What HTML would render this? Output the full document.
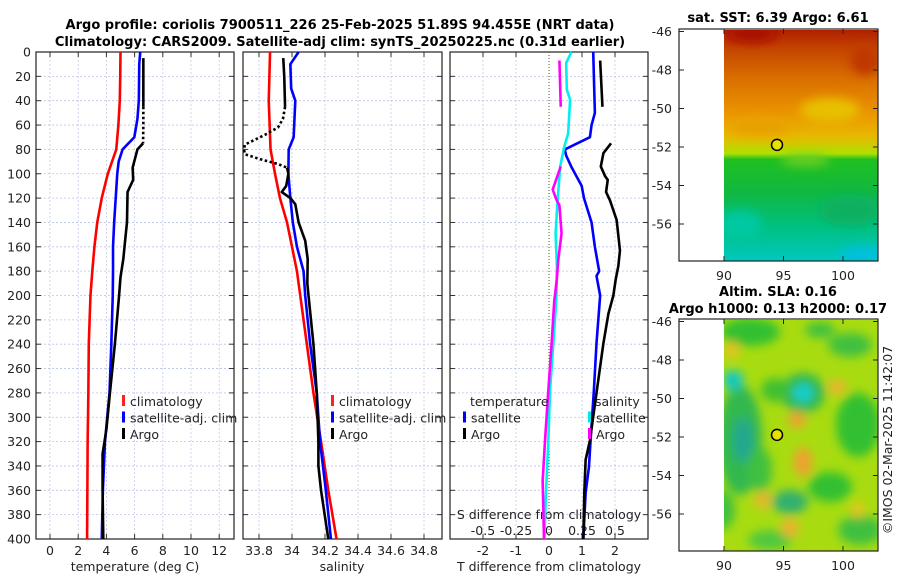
<!DOCTYPE html>
<html><head><meta charset="utf-8"><style>
html,body{margin:0;padding:0;background:#fff}
svg{display:block}
text{font-family:"DejaVu Sans","Liberation Sans",sans-serif;fill:#222}
.t{font-size:12.5px}
.b{font-weight:bold;font-size:13px;fill:#000}
</style></head><body>
<svg id="fig" width="900" height="580" viewBox="0 0 900 580" xmlns="http://www.w3.org/2000/svg">
<defs>
<linearGradient id="sstg" x1="0" y1="0" x2="0" y2="1">
<stop offset="0" stop-color="#b02000"/><stop offset="0.08" stop-color="#c44400"/>
<stop offset="0.2" stop-color="#d86c00"/><stop offset="0.35" stop-color="#ea9200"/>
<stop offset="0.46" stop-color="#e8b800"/><stop offset="0.535" stop-color="#b0e000"/>
<stop offset="0.56" stop-color="#20c020"/><stop offset="0.7" stop-color="#10b840"/>
<stop offset="0.85" stop-color="#00c080"/><stop offset="1" stop-color="#00c8c0"/>
</linearGradient>
<filter id="blur" x="-50%" y="-50%" width="200%" height="200%"><feGaussianBlur stdDeviation="5"/></filter>
<clipPath id="m1c"><rect x="724" y="30" width="154" height="231"/></clipPath>
<clipPath id="m2c"><rect x="724" y="320" width="154" height="231"/></clipPath>
</defs>
<text class="b" x="340" y="29" text-anchor="middle">Argo profile: coriolis 7900511_226 25-Feb-2025 51.89S 94.455E (NRT data)</text>
<text class="b" x="340" y="46" text-anchor="middle">Climatology: CARS2009. Satellite-adj clim: synTS_20250225.nc (0.31d earlier)</text>
<g id="plots"></g>
<g id="maps"></g>
<text class="t" transform="translate(892,440) rotate(-90)" text-anchor="middle">©IMOS 02-Mar-2025 11:42:07</text>
</svg>
<script>
// ---------- data ----------
const depthTicks = [0,20,40,60,80,100,120,140,160,180,200,220,240,260,280,300,320,340,360,380,400];
const tTicks = [0,2,4,6,8,10,12];
const sTicks = [33.8,34,34.2,34.4,34.6,34.8];
const sTickLabels = ["33.8","34","34.2","34.4","34.6","34.8"];
const dTTicks = [-2,-1,0,1,2];
const dSTicks = [-0.5,-0.25,0,0.25,0.5];
const dSTickLabels = ["-0.5","-0.25","0","0.25","0.5"];

const climTDepth = [0,20,40,60,80,100,120,140,160,180,200,240,280,320,360,400];
const climT = [5.0,4.98,4.95,4.85,4.7,4.1,3.67,3.35,3.15,3.0,2.87,2.75,2.72,2.67,2.65,2.63];
const satTDepth = [0,10,40,55,70,80,90,100,120,140,160,180,200,240,280,320,360,400];
const satT = [6.4,6.33,6.3,6.2,5.98,5.15,4.87,4.77,4.66,4.55,4.47,4.47,4.45,4.35,4.22,3.9,3.75,3.67];
const argoTDepth = [5,20,45,60,75,80,95,105,115,140,150,170,185,200,240,280,310,330,360,400];
const argoT = [6.62,6.62,6.62,6.62,6.6,6.2,5.86,5.9,5.5,5.46,5.37,5.2,5.0,4.9,4.6,4.25,4.0,3.73,3.73,3.78];
const argoTBad = [45,75];

const climSDepth = [0,40,80,100,120,140,160,180,200,240,280,320,360,400];
const climS = [33.867,33.859,33.87,33.897,33.927,33.97,34.0,34.03,34.05,34.09,34.13,34.176,34.22,34.27];
const satSDepth = [0,10,30,40,70,80,100,120,140,160,180,200,240,280,320,360,400];
const satS = [34.04,33.99,33.995,34.02,34.01,33.98,33.978,33.99,34.005,34.03,34.07,34.08,34.11,34.15,34.17,34.205,34.236];
const argoSDepth = [5,20,45,55,62,68,72,76,80,84,88,92,95,100,110,115,120,125,140,155,170,190,200,240,280,320,340,360,400];
const argoS = [33.947,33.953,33.958,33.945,33.915,33.836,33.776,33.715,33.709,33.715,33.806,33.915,33.97,33.978,33.965,33.938,33.99,34.02,34.04,34.08,34.095,34.093,34.1,34.13,34.15,34.16,34.16,34.176,34.22];
const argoSBad = [45,95];

const dTSatDepth = [0,50,60,70,80,85,95,110,120,140,160,180,184,200,239,278,319,341,362,400];
const dTSat = [1.34,1.39,1.29,1.24,0.48,0.52,0.69,0.99,1.06,1.29,1.39,1.52,1.44,1.55,1.44,1.36,1.26,1.21,1.11,1.04];
const dTArgoDepth = [7,45,75,83,94,102,105,115,122,138,163,176,187,200,215,239,278,319,335,362,400];
const dTArgo = [1.55,1.62,1.88,1.65,1.57,1.7,1.78,1.73,1.85,2.05,2.15,2.1,2.02,1.95,1.8,1.65,1.45,1.24,1.11,1.07,1.04];
const dSSatDepth = [0,9,31,39,67,78,94,122,149,176,187,204,239,278,319,362,400];
const dSSat = [0.17,0.13,0.135,0.16,0.145,0.115,0.085,0.065,0.05,0.06,0.058,0.055,0.033,0.008,-0.005,-0.023,-0.035];
const dSArgoDepth = [7,45,94,113,122,126,149,171,187,200,204,239,278,319,352,375,400];
const dSArgo = [0.079,0.089,0.089,0.028,0.059,0.079,0.095,0.07,0.059,0.045,0.04,0.02,-0.005,-0.03,-0.048,-0.043,-0.038];
const argoGap = [45,75];

const mapLonTicks = [90,95,100];
const mapLatTicks = [-46,-48,-50,-52,-54,-56];
const argoLon = 94.455, argoLat = -51.89;

// ---------- helpers ----------
const NS = "http://www.w3.org/2000/svg";
const plots = document.getElementById("plots");
const maps = document.getElementById("maps");
function mk(tag, attrs, parent){ const e=document.createElementNS(NS,tag); for(const k in attrs) e.setAttribute(k,attrs[k]); (parent||plots).appendChild(e); return e; }
function txt(x,y,s,anchor,parent){ const e=mk("text",{x:x,y:y,"text-anchor":anchor||"middle",class:"t"},parent); e.textContent=s; return e; }
const Y0=52, Y1=539;
const yD = d => Y0 + d*(Y1-Y0)/400;
const panels = [
 {x0:36,x1:234,sx:v=>50+v*14.1},
 {x0:243,x1:442,sx:v=>259+(v-33.8)*165},
 {x0:450,x1:648,sx:v=>549+v*33}
];
const sxS3 = v=>549+v*132;

function frame(p,name){
 for(const d of depthTicks){ if(d===0||d===400) continue;
  const g=mk("line",{x1:p.x0,x2:p.x1,y1:yD(d),y2:yD(d),stroke:"#b8c4e8","stroke-width":0.8,"stroke-dasharray":"2,2"});
  
  
  for(const xx of [[p.x0,p.x0+5],[p.x1-5,p.x1]]){
   const t=mk("line",{x1:xx[0],x2:xx[1],y1:yD(d),y2:yD(d),stroke:"#333","stroke-width":1});
   
   
  }
 }
 const r=mk("rect",{x:p.x0,y:Y0,width:p.x1-p.x0,height:Y1-Y0,fill:"none",stroke:"#222","stroke-width":1.2});
 
 
}
function vgrid(p,x){
 const g=mk("line",{x1:x,x2:x,y1:Y0,y2:Y1,stroke:"#c8c8e8","stroke-width":0.8,"stroke-dasharray":"2,2"});
 
 
 for(const yy of [[Y0,Y0+5],[Y1-5,Y1]]){
  const t=mk("line",{x1:x,x2:x,y1:yy[0],y2:yy[1],stroke:"#333","stroke-width":1});
  
  
 }
}
function series(depths, vals, sx, color, name, bad, badStyle){
 const segs=[[],[]];
 for(let i=0;i<depths.length;i++){
  const d=depths[i], pt=[sx(vals[i]),yD(d)];
  if(!bad){ segs[0].push(pt); continue; }
  if(d<=bad[0]) segs[0].push(pt);
  else if(d>=bad[1]) segs[1].push(pt);
 }
 for(const s of segs.filter(s=>s.length>1)){
  const pl=mk("polyline",{points:s.map(p=>p.join(",")).join(" "),fill:"none",stroke:color,"stroke-width":2.6,"stroke-linejoin":"round"});
  
  
 }
 if(bad && badStyle==='dot'){
  const pts=[]; for(let i=0;i<depths.length;i++) if(depths[i]>=bad[0]&&depths[i]<=bad[1]) pts.push([sx(vals[i]),yD(depths[i])]);
  const pl=mk("polyline",{points:pts.map(p=>p.join(",")).join(" "),fill:"none",stroke:color,"stroke-width":2.6,"stroke-dasharray":"2.5,2.5"});
  
  
 }
}
function legend(x,y,items){
 items.forEach((it,k)=>{
  const yy=y+k*16.5;
  const b=mk("rect",{x:x,y:yy-11,width:3,height:11,fill:it[0]});
  
  
  const t=txt(x+8,yy,it[1],"start");
  
  
 });
}

// ---------- panel 1 temperature ----------
let p=panels[0];
for(const v of tTicks) vgrid(p,p.sx(v));
frame(p,'temperature-panel');
for(const d of depthTicks){ const t=txt(31,yD(d)+4.5,String(d),"end");   }
for(const v of tTicks){ const t=txt(p.sx(v),555,String(v));   }
let xl=txt(135,571,"temperature (deg C)");  
series(climTDepth,climT,p.sx,"#ff0000","climatology-temperature-line");
series(satTDepth,satT,p.sx,"#0000ff","satellite-temperature-line");
series(argoTDepth,argoT,p.sx,"#000000","argo-temperature-line",argoTBad,'dot');
legend(122,406,[["#ff2020","climatology"],["#0000ff","satellite-adj. clim"],["#000","Argo"]]);

// ---------- panel 2 salinity ----------
p=panels[1];
for(const v of sTicks) vgrid(p,p.sx(v));
frame(p,'salinity-panel');
sTicks.forEach((v,i)=>{ const t=txt(p.sx(v),555,sTickLabels[i]);   });
xl=txt(342,571,"salinity");  
series(climSDepth,climS,p.sx,"#ff0000","climatology-salinity-line");
series(satSDepth,satS,p.sx,"#0000ff","satellite-salinity-line");
series(argoSDepth,argoS,p.sx,"#000000","argo-salinity-line",argoSBad,'dot');
legend(331,406,[["#ff2020","climatology"],["#0000ff","satellite-adj. clim"],["#000","Argo"]]);

// ---------- panel 3 differences ----------
p=panels[2];
for(const v of dTTicks) if(v!==0) vgrid(p,p.sx(v));
frame(p,'difference-panel');
const z=mk("line",{x1:549,x2:549,y1:Y0,y2:Y1,stroke:"#4a5a20","stroke-width":1,"stroke-dasharray":"1,2"});


for(const v of dTTicks){ const t=txt(p.sx(v),555,String(v));   }
dSTicks.forEach((v,i)=>{ const t=txt(sxS3(v),535,dSTickLabels[i]);   });
xl=txt(549,519,"S difference from climatology");  
xl=txt(549,571,"T difference from climatology");  
series(dTSatDepth,dTSat,p.sx,"#0000ff","satellite-t-diff-line");
series(dTArgoDepth,dTArgo,p.sx,"#000000","argo-t-diff-line",argoGap,'gap');
series(dSSatDepth,dSSat,sxS3,"#00f0f0","satellite-s-diff-line");
series(dSArgoDepth,dSArgo,sxS3,"#ff00ff","argo-s-diff-line",argoGap,'gap');
let lt=txt(470,406,"temperature","start");  
legend(463,422.5,[["#0000ff","satellite"],["#000","Argo"]]);
lt=txt(595,406,"salinity","start");  
legend(588,422.5,[["#00e8e8","satellite"],["#ff00ff","Argo"]]);

// ---------- maps ----------
const lonX = lon => 724 + (lon-90)*11.9;
const latY = (lat,off) => 31.5 + (-46-lat)*19.25 + off;
function mapFrame(off,name){
 const r=mk("rect",{x:679,y:29+off,width:199,height:232,fill:"none",stroke:"#222","stroke-width":1.2},maps);
 
 
 for(const la of mapLatTicks){
  const y=latY(la,off);
  const t=txt(672,y+4.5,String(la),"end",maps);  
  for(const xx of [[679,684],[873,878]]){ const k=mk("line",{x1:xx[0],x2:xx[1],y1:y,y2:y,stroke:"#222"},maps);   }
 }
 for(const lo of mapLonTicks){
  const x=lonX(lo);
  const t=txt(x,280+off,String(lo),"middle",maps);  
  for(const yy of [[29+off,34+off],[256+off,261+off]]){ const k=mk("line",{x1:x,x2:x,y1:yy[0],y2:yy[1],stroke:"#222"},maps);   }
 }
 const c=mk("circle",{cx:lonX(argoLon),cy:latY(argoLat,off),r:5.5,fill:"#e8e000",stroke:"#000","stroke-width":1.5},maps);
 
 
}
// SST map
let im=mk("rect",{x:724,y:30,width:154,height:231,fill:"url(#sstg)"},maps);


const g1=mk("g",{"clip-path":"url(#m1c)",filter:"url(#blur)"},maps);


[[752,34,25,8,"#a80800"],[865,60,15,15,"#c03800"],[830,110,30,12,"#e8c000"],[760,128,30,8,"#e8a000"],[805,160,25,6,"#70d020"],[850,210,30,15,"#10b060"],[740,225,22,15,"#00c8a0"],[865,255,25,8,"#00c0e0"]].forEach(b=>mk("ellipse",{cx:b[0],cy:b[1],rx:b[2],ry:b[3],fill:b[4]},g1));
let tt=txt(778,22,"sat. SST: 6.39 Argo: 6.61","middle",maps); tt.setAttribute('class','b');  
mapFrame(0,'sst-map-frame');
// SLA map
im=mk("rect",{x:724,y:320,width:154,height:231,fill:"#a8dc10"},maps);


const g2=mk("g",{"clip-path":"url(#m2c)",filter:"url(#blur)"},maps);


[[750,332,30,14,"#30c030"],[740,440,22,55,"#30b850"],[743,440,10,22,"#20a890"],[733,380,10,10,"#10c8c8"],[803,393,22,20,"#30b850"],[803,393,10,9,"#10d0d0"],[858,425,22,32,"#30c030"],[830,487,22,15,"#30c030"],[790,502,18,12,"#30b070"],[775,390,14,12,"#40c030"],[760,470,12,22,"#40c040"],[850,345,22,12,"#40c040"],[860,530,22,15,"#40c040"],[770,540,22,10,"#50c840"],[820,330,15,8,"#40c040"],[720,510,15,20,"#40c040"],
 [797,420,9,8,"#f0a030"],[803,462,9,15,"#f0a030"],[763,500,8,8,"#f0b030"],[790,528,9,9,"#f0b030"],[732,350,7,8,"#f0c020"],[837,387,9,7,"#f0b030"],[858,510,6,8,"#f0c020"]].forEach(b=>mk("ellipse",{cx:b[0],cy:b[1],rx:b[2],ry:b[3],fill:b[4]},g2));
tt=txt(778,296,"Altim. SLA: 0.16","middle",maps); tt.setAttribute('class','b');  
tt=txt(778,313,"Argo h1000: 0.13 h2000: 0.17","middle",maps); tt.setAttribute('class','b');  
mapFrame(290,'sla-map-frame');
</script>
</body></html>
